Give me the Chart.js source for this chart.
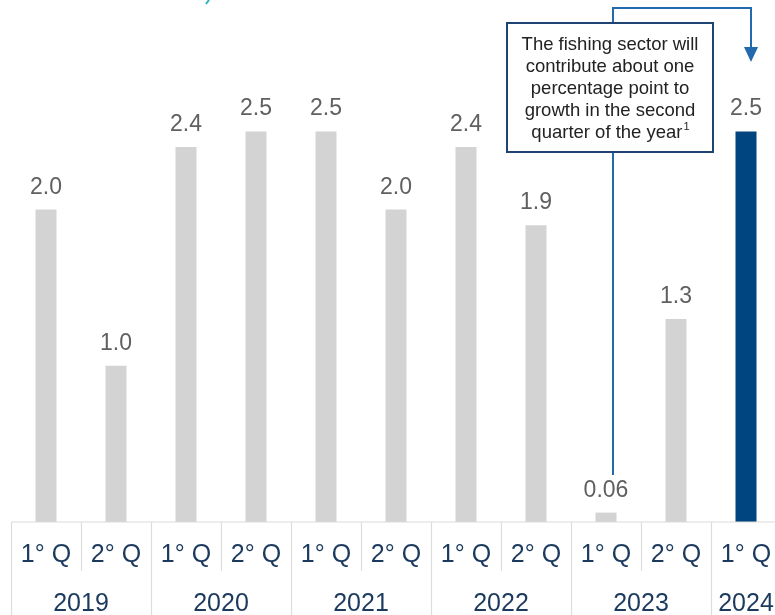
<!DOCTYPE html>
<html>
<head>
<meta charset="utf-8">
<script src="https://cdn.jsdelivr.net/npm/chart.js@4.4.1/dist/chart.umd.min.js"></script>
<style>
  html, body { margin: 0; padding: 0; background: #fff; overflow: hidden; width: 775px; height: 615px; }
  #wrap { width: 775px; height: 615px; overflow: hidden; position: relative; }
  #chart { display: block; position: absolute; left: 0; top: 0; }
</style>
</head>
<body>
<div id="wrap"><canvas id="chart" width="781" height="615"></canvas></div>
<script>
// Datos
const quarters = ["1° Q", "2° Q", "1° Q", "2° Q", "1° Q", "2° Q", "1° Q", "2° Q", "1° Q", "2° Q", "1° Q"];
const years = ["2019", "2020", "2021", "2022", "2023", "2024"];
const yearSpans = [2, 2, 2, 2, 2, 1];
const growth = [2.0, 1.0, 2.4, 2.5, 2.5, 2.0, 2.4, 1.9, 0.06, 1.3, 2.5];
const growthLabels = ["2.0", "1.0", "2.4", "2.5", "2.5", "2.0", "2.4", "1.9", "0.06", "1.3", "2.5"];
const noteLines = ["The fishing sector will", "contribute about one", "percentage point to", "growth in the second", "quarter of the year"];

const FONT = "'Liberation Sans', Arial, sans-serif";
const GRAY = "#d3d3d3";
const BLUE = "#00457f";
const AXIS_TXT = "#1b3a5e";
const LINE = "#dcdcdc";

// Etiquetas de valor sobre las barras
const valueLabels = {
  id: "valueLabels",
  afterDatasetsDraw(chart) {
    const ctx = chart.ctx;
    const meta = chart.getDatasetMeta(0);
    ctx.save();
    ctx.font = "23px " + FONT;
    ctx.fillStyle = "#606060";
    ctx.textAlign = "center";
    ctx.textBaseline = "alphabetic";
    meta.data.forEach((bar, i) => {
      ctx.fillText(growthLabels[i], bar.x, bar.y - 16);
    });
    ctx.restore();
  }
};

// Separadores de ejes y años
const axisGroups = {
  id: "axisGroups",
  afterDraw(chart) {
    const ctx = chart.ctx;
    const x = chart.scales.x;
    const base = chart.chartArea.bottom;
    const half = (x.getPixelForValue(1) - x.getPixelForValue(0)) / 2;
    ctx.save();
    ctx.strokeStyle = LINE;
    ctx.lineWidth = 1.2;
    ctx.beginPath();
    ctx.moveTo(x.left, base);
    ctx.lineTo(x.right, base);
    ctx.stroke();

    // líneas de trimestre
    let idx = 0;
    const yearStarts = [];
    yearSpans.forEach(span => { yearStarts.push(idx); idx += span; });
    for (let i = 0; i <= quarters.length; i++) {
      const px = Math.round(x.getPixelForValue(i) - half) + 0.5;
      const isYear = yearStarts.includes(i) || i === quarters.length;
      ctx.beginPath();
      ctx.moveTo(px, base);
      ctx.lineTo(px, isYear ? chart.height : base + 49);
      ctx.stroke();
    }

    // etiquetas de año
    ctx.font = "25px " + FONT;
    ctx.fillStyle = AXIS_TXT;
    ctx.textAlign = "center";
    ctx.textBaseline = "alphabetic";
    years.forEach((yr, k) => {
      const a = x.getPixelForValue(yearStarts[k]) - half;
      const b = x.getPixelForValue(yearStarts[k] + yearSpans[k] - 1) + half;
      ctx.fillText(yr, (a + b) / 2, 611);
    });
    ctx.restore();
  }
};

// Nota con flecha
const noteBox = {
  id: "noteBox",
  afterDraw(chart) {
    const ctx = chart.ctx;
    const x = chart.scales.x;
    const meta = chart.getDatasetMeta(0);
    const lineX = x.getPixelForValue(8) + 7;
    const target = meta.data[10].x + 5;
    const box = { l: 507, t: 23, r: 713, b: 152 };
    ctx.save();

    ctx.strokeStyle = "#2369ad";
    ctx.lineWidth = 2;
    ctx.beginPath();
    ctx.moveTo(lineX, box.t);
    ctx.lineTo(lineX, 8);
    ctx.lineTo(target, 8);
    ctx.lineTo(target, 52);
    ctx.stroke();
    ctx.beginPath();
    ctx.moveTo(lineX, box.b);
    ctx.lineTo(lineX, 475);
    ctx.stroke();
    ctx.fillStyle = "#2369ad";
    ctx.beginPath();
    ctx.moveTo(target - 7, 47);
    ctx.lineTo(target + 7, 47);
    ctx.lineTo(target, 62);
    ctx.closePath();
    ctx.fill();

    ctx.fillStyle = "#fff";
    ctx.fillRect(box.l, box.t, box.r - box.l, box.b - box.t);
    ctx.strokeStyle = "#1f4474";
    ctx.strokeRect(box.l, box.t, box.r - box.l, box.b - box.t);

    ctx.fillStyle = "#222";
    ctx.font = "18.5px " + FONT;
    ctx.textAlign = "center";
    ctx.textBaseline = "alphabetic";
    const cx = (box.l + box.r) / 2;
    noteLines.forEach((line, i) => {
      if (i === noteLines.length - 1) {
        const w = ctx.measureText(line).width;
        ctx.font = "11px " + FONT;
        const sw = ctx.measureText("1").width;
        ctx.font = "18.5px " + FONT;
        const start = cx - (w + sw) / 2;
        ctx.textAlign = "left";
        ctx.fillText(line, start, 50 + i * 22);
        ctx.font = "11px " + FONT;
        ctx.fillText("1", start + w + 1, 50 + i * 22 - 8);
      } else {
        ctx.fillText(line, cx, 50 + i * 22);
      }
    });

    // pequeño trazo cian arriba
    ctx.strokeStyle = "#2bb3c0";
    ctx.lineWidth = 2;
    ctx.beginPath();
    ctx.moveTo(209, 0);
    ctx.lineTo(206, 4);
    ctx.stroke();
    ctx.restore();
  }
};

new Chart(document.getElementById("chart"), {
  type: "bar",
  data: {
    labels: quarters,
    datasets: [{
      data: growth,
      backgroundColor: growth.map((v, i) => i === growth.length - 1 ? BLUE : GRAY),
      borderWidth: 0,
      barPercentage: 0.3,
      categoryPercentage: 1
    }]
  },
  options: {
    responsive: false,
    animation: false,
    layout: { padding: { top: 22, left: 11, right: 0, bottom: 0 } },
    plugins: { legend: { display: false }, tooltip: { enabled: false } },
    scales: {
      y: { display: false, min: 0, max: 3.2 },
      x: {
        border: { display: false },
        grid: { display: false, drawTicks: true, tickLength: 18 },
        ticks: {
          color: AXIS_TXT,
          font: { size: 25, family: FONT },
          padding: 0,
          maxRotation: 0,
          autoSkip: false
        },
        afterFit(scale) { scale.height = 93; }
      }
    }
  },
  plugins: [valueLabels, axisGroups, noteBox]
});
</script>
</body>
</html>
